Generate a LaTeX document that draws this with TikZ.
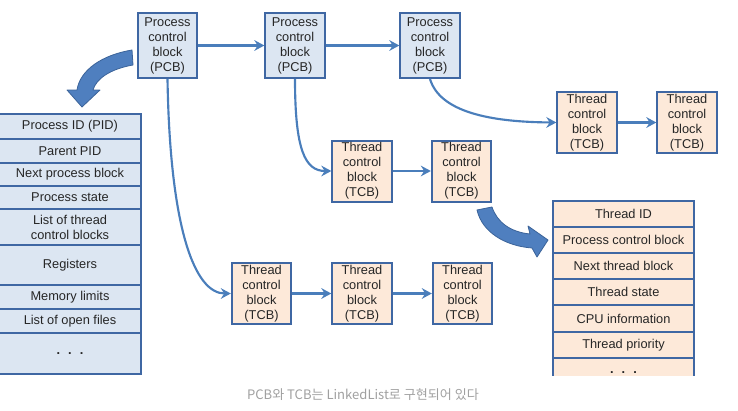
\documentclass[tikz,border=0pt]{standalone}
\usepackage{fontspec}
\setmainfont{Liberation Sans}
\newfontfamily\krfont{Noto Sans CJK KR}
\usetikzlibrary{arrows.meta}
\definecolor{edgeblue}{HTML}{3F67A3}
\definecolor{lineblue}{HTML}{4A7EBB}
\definecolor{pcbfill}{HTML}{DCE6F2}
\definecolor{tcbfill}{HTML}{FDE9D9}
\definecolor{bigblue}{HTML}{4F7FBF}
\definecolor{bigedge}{HTML}{3B6399}
\definecolor{capgray}{HTML}{A0A0A0}
\begin{document}
\begin{tikzpicture}[x=0.75pt,y=-0.75pt,
  every node/.style={font=\fontsize{9.6}{11.25}\selectfont, text=black!85},
  cb/.style={draw=edgeblue, line width=1.5pt, inner sep=0pt, align=center, minimum width=44.5pt},
  pcbbox/.style={cb, fill=pcbfill, minimum height=48.75pt},
  tcbbox/.style={cb, fill=tcbfill, minimum height=45.75pt},
  rowbase/.style={draw=edgeblue, line width=1.5pt, inner sep=0pt, anchor=north, align=center},
  prow/.style={rowbase, fill=pcbfill, minimum width=106.5pt},
  trow/.style={rowbase, fill=tcbfill, minimum width=105.75pt},
  conn/.style={draw=lineblue, line width=1.6pt, -{Stealth[length=7.5pt,width=8pt,inset=2.5pt]}},
  bigarrow/.style={fill=bigblue, draw=bigedge, line width=0.6pt, line join=round}]
\useasboundingbox (0,0) rectangle (738,410);
\begin{scope}
\clip (0,0) rectangle (738,375);
% PCB chain
\node[pcbbox] (p1) at (167.5,45.5) {Process\\control\\block\\(PCB)};
\node[pcbbox] (p2) at (295,45.5) {Process\\control\\block\\(PCB)};
\node[pcbbox] (p3) at (430,45.5) {Process\\control\\block\\(PCB)};
% TCB nodes
\node[tcbbox] (t1) at (587,122.5) {Thread\\control\\block\\(TCB)};
\node[tcbbox] (t2) at (687,122.5) {Thread\\control\\block\\(TCB)};
\node[tcbbox] (m1) at (362,171) {Thread\\control\\block\\(TCB)};
\node[tcbbox] (m2) at (461.5,171) {Thread\\control\\block\\(TCB)};
\node[tcbbox] (b1) at (261.5,293.5) {Thread\\control\\block\\(TCB)};
\node[tcbbox] (b2) at (362,293.5) {Thread\\control\\block\\(TCB)};
\node[tcbbox] (b3) at (462.5,293.5) {Thread\\control\\block\\(TCB)};
% connectors
\draw[conn] (p1) -- (p2);
\draw[conn] (p2) -- (p3);
\draw[conn] (t1) -- (t2);
\draw[conn] (m1) -- (m2);
\draw[conn] (b1) -- (b2);
\draw[conn] (b2) -- (b3);
\draw[conn] (p1.south) .. controls (170,230) and (195,293.5) .. (b1.west);
\draw[conn] (p2.south) .. controls (295,150) and (305,171) .. (m1.west);
\draw[conn] (p3.south) .. controls (440,112) and (490,122) .. (t1.west);
% PCB table
\node[prow, minimum height=18.75pt] (r1) at (70,113) {Process ID (PID)};
\node[prow, minimum height=18pt] (r2) at (70,138) {Parent PID};
\node[prow, minimum height=17.25pt] (r3) at (70,162) {Next process block};
\node[prow, minimum height=17.25pt] (r4) at (70,185) {Process state};
\node[prow, minimum height=27pt] (r5) at (70,208) {List of thread\\control blocks};
\node[prow, minimum height=30pt] (r6) at (70,244) {Registers};
\node[prow, minimum height=18pt] (r7) at (70,284) {Memory limits};
\node[prow, minimum height=18pt] (r8) at (70,308) {List of open files};
\node[prow, minimum height=30.75pt] (r9) at (70,332) {\textbf{.\hspace{6pt}.\hspace{6pt}.}};
% TCB table
\node[trow, minimum height=19.5pt] (s1) at (623.5,200) {Thread ID};
\node[trow, minimum height=19.5pt] (s2) at (623.5,226) {Process control block};
\node[trow, minimum height=19.5pt] (s3) at (623.5,252) {Next thread block};
\node[trow, minimum height=19.5pt] (s4) at (623.5,278) {Thread state};
\node[trow, minimum height=20.25pt] (s5) at (623.5,304) {CPU information};
\node[trow, minimum height=19.5pt] (s6) at (623.5,331) {Thread priority};
\node[trow, minimum height=22.5pt] (s7) at (623.5,357) {\textbf{.\hspace{6pt}.\hspace{6pt}.}};
% big block arrows
\path[bigarrow] (132,50) .. controls (102,55) and (80,70) .. (77,90) -- (67,90) -- (82,107)
  -- (100,90) -- (93,90) .. controls (96,79) and (110,69) .. (133,65) -- cycle;
\path[bigarrow] (477,210) .. controls (482,232) and (505,246) .. (532,248) -- (537,257)
  -- (548,240) -- (528,226) -- (530,234) .. controls (510,232) and (497,222) .. (492,207) -- cycle;
\end{scope}
\node[font=\krfont\fontsize{9.8}{12}\selectfont, text=capgray] (cap) at (363,395) {PCB와 TCB는 LinkedList로 구현되어 있다};
\end{tikzpicture}
\end{document}
